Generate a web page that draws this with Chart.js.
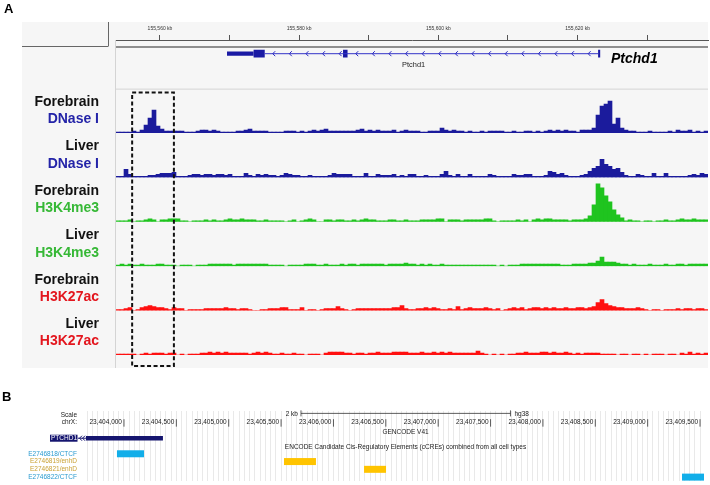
<!DOCTYPE html>
<html>
<head>
<meta charset="utf-8">
<script src="https://cdn.jsdelivr.net/npm/chart.js@4.4.1/dist/chart.umd.min.js"></script>
<style>
  html, body { margin: 0; padding: 0; background: #fff; }
  #wrap { position: relative; width: 710px; height: 485px; overflow: hidden; }
  #igv { position: absolute; left: 0; top: 0; }
  #ucsc { position: absolute; left: 0; top: 385px; }
</style>
</head>
<body>
<div id="wrap">
  <canvas id="igv" width="710" height="375"></canvas>
  <canvas id="ucsc" width="710" height="100"></canvas>
</div>
<script>
// ---------- panel A : IGV view, chrX, kb ----------
const viewKb = [155553.68, 155638.74];

// signal heights per bin (148 bins across the view)
const fbDnase = [
  1,1,1,1,2,1,3,8,15,23, 7,4,2,2,2,2,2,1,1,1, 2,3,3,2,3,2,1,1,1,1, 2,2,3,4,2,2,2,2,1,1,
  1,1,2,2,2,1,2,1,2,3, 2,3,4,2,2,2,2,2,2,2, 3,4,2,3,2,3,2,2,2,3, 1,2,3,2,2,2,1,1,2,2,
  2,5,3,2,3,2,2,1,2,1, 1,2,1,2,2,2,2,1,1,2, 1,1,2,2,1,2,1,2,3,2, 3,2,3,2,2,1,3,3,3,5,
  18,27,29,32,9,15,5,3,2,2, 1,1,1,2,1,1,1,1,2,1, 3,2,2,3,1,2,1,2
];
const lvDnase = [
  1,1,8,3,1,1,1,1,2,2, 3,4,4,4,5,1,1,1,2,3, 3,2,3,3,2,3,3,2,3,1, 1,1,4,2,1,3,2,3,2,2,
  1,2,4,3,2,2,1,1,2,1, 1,1,1,2,4,3,3,3,3,1, 1,1,4,1,1,3,2,2,2,3, 1,2,1,3,3,1,1,2,1,1,
  1,3,6,2,1,3,1,1,3,1, 1,1,1,3,2,1,1,1,1,3, 2,2,3,3,1,1,1,2,6,5, 3,4,2,1,1,1,2,3,6,9,
  11,18,13,11,8,9,5,2,1,1, 3,2,1,1,4,1,1,4,1,1, 1,1,1,2,3,2,4,3
];
const fbK4me3 = [
  1,1,1,2,0,1,1,2,3,2, 0,2,2,3,3,3,1,1,0,1, 1,1,2,1,2,1,1,2,3,2, 2,3,2,2,2,1,1,2,1,1,
  1,1,0,1,2,0,1,2,3,2, 0,0,2,2,1,2,2,1,1,2, 1,2,3,2,2,1,1,1,2,2, 1,1,2,1,1,1,2,2,2,2,
  3,3,0,2,2,2,1,2,2,2, 2,2,3,3,1,0,1,1,1,1, 2,1,2,0,2,3,2,3,3,2, 2,2,2,1,2,2,2,3,6,17,
  38,34,26,20,12,7,4,1,2,1, 1,0,1,1,0,1,1,2,1,1, 2,3,2,2,3,2,2,2
];
const lvK4me3 = [
  1,2,1,2,1,1,2,1,1,1, 2,2,1,1,1,0,1,1,1,0, 1,1,1,2,2,2,2,2,2,1, 2,2,2,2,2,2,2,2,1,1,
  1,1,0,1,1,1,1,2,2,2, 1,1,2,1,1,1,2,1,2,2, 1,2,2,2,2,2,2,1,2,2, 2,2,3,2,2,1,2,1,2,1,
  1,2,1,1,1,1,1,1,1,1, 1,1,1,1,1,0,1,0,1,1, 1,2,2,2,2,2,2,2,2,2, 2,1,1,1,2,2,2,2,3,3,
  5,9,4,4,4,3,2,2,1,2, 1,1,1,2,1,1,1,2,1,1, 2,2,1,2,2,2,2,2
];
const fbK27ac = [
  1,1,2,3,0,1,3,4,5,4, 3,3,2,1,3,2,2,0,1,1, 1,1,2,2,2,2,2,3,2,2, 1,2,2,1,0,0,1,1,2,2,
  2,3,3,1,1,1,3,0,1,1, 0,1,2,2,2,4,2,1,0,1, 2,2,2,2,2,2,2,2,2,3, 3,5,2,1,1,2,2,3,2,3,
  2,1,1,2,1,4,1,2,3,2, 2,2,3,2,1,2,0,1,2,3, 2,3,1,2,3,3,2,3,2,3, 2,2,3,2,2,3,3,2,3,4,
  8,11,7,5,4,3,3,2,2,2, 3,2,1,0,1,1,0,1,1,1, 2,1,2,2,1,2,2,1
];
const lvK27ac = [
  1,1,1,1,1,0,1,2,1,2, 2,2,1,2,2,0,1,0,1,1, 1,2,2,3,2,3,2,3,2,2, 2,2,2,1,2,3,2,3,2,1,
  1,2,1,1,2,1,1,0,1,1, 1,0,2,3,3,3,3,2,2,1, 2,2,1,2,2,3,2,2,2,3, 3,3,3,2,2,2,3,2,2,3,
  2,3,2,3,2,2,2,2,2,2, 4,2,1,0,1,0,1,0,1,1, 2,2,3,2,2,2,3,3,2,3, 2,2,3,2,1,2,1,2,2,2,
  2,1,1,1,1,0,1,1,0,1, 1,0,1,0,1,1,1,0,1,1, 0,2,1,3,1,2,1,2
];

const trackTissue = ['Forebrain', 'Liver', 'Forebrain', 'Liver', 'Forebrain', 'Liver'];
const trackAssay = ['DNase I', 'DNase I', 'H3K4me3', 'H3K4me3', 'H3K27ac', 'H3K27ac'];
const trackValues = [fbDnase, lvDnase, fbK4me3, lvK4me3, fbK27ac, lvK27ac];

// Ptchd1 gene model (kb)
const geneUtr = [155569.63, 155573.45];
const geneCds = [155573.45, 155575.05];
const geneExon2 = [155586.30, 155586.95];
const geneExonLast = [155622.95, 155623.25];
const geneIntron = [155575.05, 155622.95];
const boxKb = [155556.0, 155562.0];   // dashed region

const assayColor = { 'DNase I': '#1b1b9c', 'H3K4me3': '#1fc41f', 'H3K27ac': '#ff1010' };
const labelColor = { 'DNase I': '#2424a8', 'H3K4me3': '#36b836', 'H3K27ac': '#e3161e' };
const FONT = '"Liberation Sans", Arial, sans-serif';
const GENE_ROW = 13.7;

const nBins = fbDnase.length;
const binCenters = fbDnase.map((_, i) => viewKb[0] + (i + 0.5) * (viewKb[1] - viewKb[0]) / nBins);

function seg(c, x0, y0, x1, y1) {
  c.beginPath(); c.moveTo(x0, y0); c.lineTo(x1, y1); c.stroke();
}

const igvDecor = {
  id: 'igvDecor',
  beforeDraw(chart) {
    const c = chart.ctx;
    c.save();
    c.fillStyle = '#f6f6f6';
    c.fillRect(22, 22, 686, 346);
    c.strokeStyle = '#666'; c.lineWidth = 1;
    seg(c, 22, 46.5, 108, 46.5);
    seg(c, 108.5, 22, 108.5, 46.5);
    c.strokeStyle = '#8e8e8e'; c.lineWidth = 2;
    seg(c, 116, 47, 708, 47);
    c.strokeStyle = '#d4d4d4'; c.lineWidth = 1;
    seg(c, 115.5, 40, 115.5, 368);
    const t1 = chart.scales.t1;
    seg(c, 116, t1.top + 0.5, 708, t1.top + 0.5);
    c.restore();
  },
  afterDraw(chart) {
    const c = chart.ctx, x = chart.scales.x, g = chart.scales.gene;
    const gy = g.getPixelForValue(GENE_ROW);
    c.save();
    // strand arrows on the intron
    const a = x.getPixelForValue(geneIntron[0]), b = x.getPixelForValue(geneIntron[1]);
    c.strokeStyle = '#2a2ac0'; c.lineWidth = 1;
    for (let px = a + 9; px < b - 5; px += 16.6) {
      c.beginPath(); c.moveTo(px + 1.5, gy - 2.5); c.lineTo(px - 1, gy); c.lineTo(px + 1.5, gy + 2.5); c.stroke();
    }
    // gene names
    const mid = (x.getPixelForValue(geneUtr[0]) + x.getPixelForValue(geneExonLast[1])) / 2;
    c.fillStyle = '#222'; c.textAlign = 'center'; c.textBaseline = 'middle';
    c.font = '7.4px ' + FONT;
    c.fillText('Ptchd1', mid, gy + 11.5);
    c.fillStyle = '#000'; c.textAlign = 'left';
    c.font = 'italic bold 14px ' + FONT;
    c.fillText('Ptchd1', 611, gy + 5.5);
    // panel letter
    c.font = 'bold 13px ' + FONT;
    c.fillText('A', 4, 9);
    // track names
    c.textAlign = 'right';
    c.font = 'bold 14px ' + FONT;
    trackAssay.forEach((assay, k) => {
      const s = chart.scales['t' + (k + 1)];
      c.fillStyle = '#111';
      c.fillText(trackTissue[k], 99, s.top + 13.5);
      c.fillStyle = labelColor[assay];
      c.fillText(assay, 99, s.top + 31);
    });
    // dashed region
    const bx0 = x.getPixelForValue(boxKb[0]), bx1 = x.getPixelForValue(boxKb[1]);
    const by0 = chart.scales.t1.top + 4, by1 = chart.scales.t6.bottom + 11;
    c.strokeStyle = '#111'; c.lineWidth = 2; c.setLineDash([4, 2.5]);
    c.strokeRect(bx0, by0, bx1 - bx0, by1 - by0);
    c.restore();
  }
};

const trackScale = () => ({
  type: 'linear', position: 'right', stack: 'igv', stackWeight: 1,
  min: 0, max: 44.4, display: false
});

const geneLine = (range, width, color) => ({
  type: 'line', xAxisID: 'x', yAxisID: 'gene',
  data: [{ x: range[0], y: GENE_ROW }, { x: range[1], y: GENE_ROW }],
  borderColor: color, borderWidth: width, borderCapStyle: 'butt',
  pointRadius: 0, fill: false
});

new Chart(document.getElementById('igv'), {
  type: 'bar',
  data: {
    datasets: [
      geneLine(geneIntron, 1, '#3434c8'),
      geneLine(geneUtr, 4.3, '#1a1aa4'),
      geneLine(geneCds, 7.7, '#1a1aa4'),
      geneLine(geneExon2, 7.7, '#1a1aa4'),
      geneLine(geneExonLast, 7.7, '#1a1aa4'),
      ...trackValues.map((vals, k) => ({
        type: 'bar', xAxisID: 'x', yAxisID: 't' + (k + 1),
        data: vals.map((v, i) => ({ x: binCenters[i], y: v })),
        backgroundColor: assayColor[trackAssay[k]],
        borderWidth: 0, barPercentage: 1, categoryPercentage: 1, grouped: false
      }))
    ]
  },
  options: {
    responsive: false, animation: false, events: [],
    layout: { padding: { left: 116, right: 2, top: 22, bottom: 20 } },
    plugins: { legend: { display: false }, tooltip: { enabled: false } },
    scales: {
      x: {
        type: 'linear', position: 'top', min: viewKb[0], max: viewKb[1], offset: false,
        afterBuildTicks: ax => { ax.ticks = ax.ticks.filter(t => Math.abs(t.value - Math.round(t.value / 10) * 10) < 1e-6); },
        afterFit: ax => { ax.height = 18; },
        ticks: {
          stepSize: 10, autoSkip: false, maxRotation: 0, padding: 3, color: '#333',
          font: { family: FONT, size: 5 },
          callback: v => (Math.round(v) % 20 === 0 ? Math.round(v).toLocaleString('en-US') + ' kb' : '')
        },
        grid: { offset: false, drawOnChartArea: false, drawTicks: true, tickLength: 5, color: '#555' },
        border: { display: true, color: '#555' }
      },
      gene: { type: 'linear', position: 'right', stack: 'igv', stackWeight: 48.6 / 44.4, min: 0, max: 48.6, reverse: true, display: false },
      t1: trackScale(), t2: trackScale(), t3: trackScale(),
      t4: trackScale(), t5: trackScale(), t6: trackScale()
    }
  },
  plugins: [igvDecor]
});

// ---------- panel B : UCSC view, chrX, bp ----------
const ucscView = [23403561, 23409576];
const rowNames = ['scale', 'chrX', 'gencode', 'PTCHD1', 'encode',
  'E2746818/CTCF', 'E2746819/enhD', 'E2746821/enhD', 'E2746822/CTCF'];
const posTicks = [23404000, 23404500, 23405000, 23405500, 23406000, 23406500,
  23407000, 23407500, 23408000, 23408500, 23409000, 23409500];
const scaleBarBp = [23405690, 23407690];
const geneBp = [23403637, 23404372];
const ccreIds = ['E2746818/CTCF', 'E2746819/enhD', 'E2746821/enhD', 'E2746822/CTCF'];
const ccreStart = [23403933, 23405528, 23406292, 23409328];
const ccreEnd = [23404191, 23405833, 23406502, 23409538];
const ccreClass = ['CTCF', 'enhD', 'enhD', 'CTCF'];

const ccreFill = { CTCF: '#12aee9', enhD: '#ffc400' };
const ccreText = { CTCF: '#2a9bd0', enhD: '#c9a135' };
const NAVY = '#15156f';
const TEXT_MID = 405.5;

const ucscDecor = {
  id: 'ucscDecor',
  afterDraw(chart) {
    const c = chart.ctx, x = chart.scales.x, y = chart.scales.y;
    const rowY = name => y.getPixelForValue(rowNames.indexOf(name));
    c.save();
    c.fillStyle = '#000'; c.textBaseline = 'middle'; c.textAlign = 'left';
    c.font = 'bold 13px ' + FONT;
    c.fillText('B', 2, 12.5);

    c.font = '6.5px ' + FONT;
    c.fillStyle = '#222'; c.textAlign = 'right';
    c.fillText('Scale', 77, rowY('scale'));
    c.fillText('chrX:', 77, rowY('chrX'));

    // scale bar
    const s0 = x.getPixelForValue(scaleBarBp[0]), s1 = x.getPixelForValue(scaleBarBp[1]);
    const sy = rowY('scale') - 1.5;
    c.strokeStyle = '#333'; c.lineWidth = 0.8;
    seg(c, s0, sy, s1, sy);
    seg(c, s0, sy - 3, s0, sy + 3);
    seg(c, s1, sy - 3, s1, sy + 3);
    c.fillText((scaleBarBp[1] - scaleBarBp[0]) / 1000 + ' kb', s0 - 3, sy + 1);
    c.textAlign = 'left';
    c.fillText('hg38', s1 + 4, sy + 1);

    // coordinate labels
    const py = rowY('chrX');
    c.textAlign = 'right';
    posTicks.forEach(p => {
      const px = x.getPixelForValue(p);
      c.fillText(p.toLocaleString('en-US'), px - 2, py);
      seg(c, px, py - 3.5, px, py + 4);
    });

    // track titles
    c.textAlign = 'center';
    c.fillText('GENCODE V41', TEXT_MID, rowY('gencode') + 2);
    c.fillText('ENCODE Candidate Cis-Regulatory Elements (cCREs) combined from all cell types', TEXT_MID, rowY('encode') + 1);

    // gene label + intron stub
    const gy = rowY('PTCHD1');
    const w = c.measureText('PTCHD1').width;
    c.fillStyle = NAVY;
    c.fillRect(77 - w - 1, gy - 3.5, w + 1.5, 7);
    c.fillStyle = '#fff'; c.textAlign = 'right';
    c.fillText('PTCHD1', 77, gy + 0.3);
    const g0 = x.getPixelForValue(geneBp[0]);
    c.strokeStyle = NAVY; c.lineWidth = 1;
    seg(c, x.left, gy, g0, gy);
    [x.left + 2.5, x.left + 5.5].forEach(px => {
      c.beginPath(); c.moveTo(px + 1.5, gy - 2.5); c.lineTo(px - 1, gy); c.lineTo(px + 1.5, gy + 2.5); c.stroke();
    });

    // cCRE names
    ccreIds.forEach((id, i) => {
      c.fillStyle = ccreText[ccreClass[i]];
      c.fillText(id, 77, rowY(id));
    });
    c.restore();
  }
};

new Chart(document.getElementById('ucsc'), {
  type: 'bar',
  data: {
    labels: rowNames,
    datasets: [
      {
        data: [{ y: 'PTCHD1', x: geneBp }],
        backgroundColor: NAVY, barPercentage: 0.58
      },
      ...['CTCF', 'enhD'].map(cls => ({
        data: ccreIds.map((id, i) => ({ y: id, x: [ccreStart[i], ccreEnd[i]] }))
          .filter((_, i) => ccreClass[i] === cls),
        backgroundColor: ccreFill[cls], barPercentage: 0.9
      }))
    ].map(d => Object.assign(d, { categoryPercentage: 1, grouped: false, borderWidth: 0, borderSkipped: false }))
  },
  options: {
    indexAxis: 'y',
    responsive: false, animation: false, events: [],
    layout: { padding: { left: 78, right: 2, top: 26, bottom: 4 } },
    plugins: { legend: { display: false }, tooltip: { enabled: false } },
    scales: {
      x: {
        type: 'linear', position: 'top', min: ucscView[0], max: ucscView[1],
        afterBuildTicks: ax => { ax.ticks = ax.ticks.filter(t => t.value % 50 === 0); },
        ticks: { display: false, stepSize: 50, maxTicksLimit: 1000 },
        grid: { color: '#e9e9e9', drawTicks: false },
        border: { display: false }
      },
      y: { type: 'category', labels: rowNames, display: false, offset: true }
    }
  },
  plugins: [ucscDecor]
});
</script>
</body>
</html>
